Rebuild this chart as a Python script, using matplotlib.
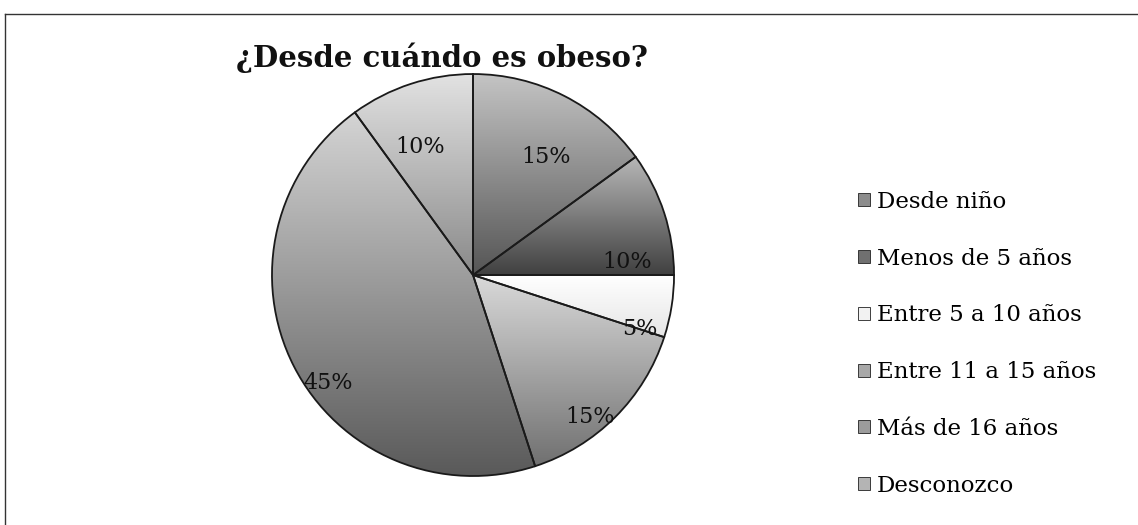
import matplotlib
matplotlib.use("Agg")
import matplotlib.pyplot as plt
import numpy as np
from matplotlib.patches import Patch
from matplotlib.lines import Line2D
from matplotlib.colors import LinearSegmentedColormap

title = "¿Desde cuándo es obeso?"
categories = ["Desde niño", "Menos de 5 años", "Entre 5 a 10 años",
              "Entre 11 a 15 años", "Más de 16 años", "Desconozco"]
values = [15, 10, 5, 15, 45, 10]
labels = ["15%", "10%", "5%", "15%", "45%", "10%"]

# style: base colour and gradient (top, bottom) per slice
colors = ["#8c8c8c", "#707070", "#f2f2f2", "#a8a8a8", "#9c9c9c", "#b4b4b4"]
grad_top = ["#c4c4c4", "#b8b8b8", "#ffffff", "#dadada", "#d4d4d4", "#e2e2e2"]
grad_bot = ["#555555", "#404040", "#e6e6e6", "#707070", "#585858", "#8a8a8a"]
label_dist = [0.69, 0.77, 0.875, 0.915, 0.90, 0.69]
label_shift = [-5, -13, -9, -5.5, 9.7, 4.5]

plt.rcParams['font.family'] = ['DejaVu Serif']

fig = plt.figure(figsize=(11.38, 5.25), dpi=100)
fig.patch.set_facecolor("white")

ax = fig.add_axes([0.239, 0.0933, 0.3533, 0.7657])
wedges, _ = ax.pie(values, colors=colors, startangle=90, counterclock=False,
                   radius=1.0,
                   wedgeprops=dict(edgecolor="#1a1a1a", linewidth=1.3))
ax.set_aspect("equal")
ax.axis("off")

grad = np.linspace(0, 1, 256).reshape(-1, 1)
for w, ct, cb in zip(wedges, grad_top, grad_bot):
    verts = w.get_path().vertices
    x0, y0 = verts.min(axis=0)
    x1, y1 = verts.max(axis=0)
    cmap = LinearSegmentedColormap.from_list("g", [cb, ct])
    im = ax.imshow(grad, cmap=cmap, extent=(x0, x1, y0, y1), origin="lower",
                   aspect="auto", zorder=w.get_zorder() + 0.1,
                   interpolation="bilinear")
    im.set_clip_path(w)
    w.set_zorder(w.get_zorder() + 0.2)
    w.set_facecolor("none")

ax.set_xlim(-1, 1)
ax.set_ylim(-1, 1)

for w, lab, d, s in zip(wedges, labels, label_dist, label_shift):
    ang = np.deg2rad((w.theta1 + w.theta2) / 2 + s)
    ax.text(d * np.cos(ang), d * np.sin(ang), lab, ha="center", va="center",
            fontsize=16, color="#111111", zorder=10)

fig.text(0.388, 0.872, title, ha="center", va="baseline", fontsize=21,
         fontweight="bold", color="#111111")

handles = [Patch(facecolor=c, edgecolor="#222222", linewidth=0.6) for c in colors]
leg = fig.legend(handles, categories, loc="upper left",
                 bbox_to_anchor=(0.736, 0.676), frameon=False,
                 fontsize=16.5, handlelength=0.5, handleheight=0.5,
                 handletextpad=0.3, labelspacing=1.52)

# frame lines
fig.add_artist(Line2D([0.004, 1.0], [0.973, 0.973], color="#333333", lw=1.0))
fig.add_artist(Line2D([0.004, 0.004], [0.0, 0.973], color="#333333", lw=1.0))

fig.savefig("out.png", dpi=100, facecolor="white")
